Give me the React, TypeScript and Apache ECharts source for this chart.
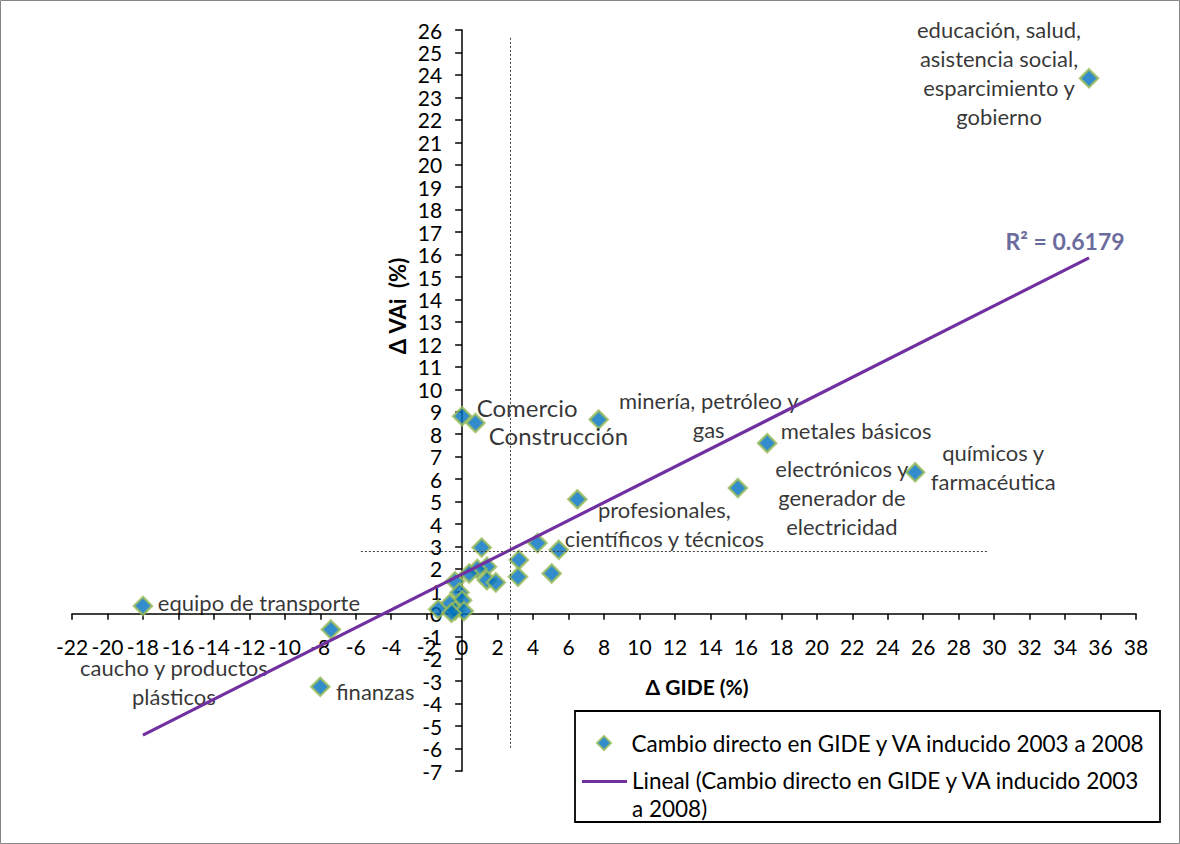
import { useEffect, useRef } from "react";
import * as echarts from "echarts";

// Sector names (empty where the point carries no label)
const sectors = [
  "educación, salud,\nasistencia social,\nesparcimiento y\ngobierno",
  "químicos y\nfarmacéutica",
  "metales básicos",
  "electrónicos y\ngenerador de\nelectricidad",
  "minería, petróleo y\ngas",
  "Comercio",
  "Construcción",
  "profesionales,\ncientíficos y técnicos",
  "equipo de transporte",
  "caucho y productos\nplásticos",
  "finanzas",
  "", "", "", "", "", "", "", "", "", "", "", "", "", "", "", "", "", "", "",
];

// Δ GIDE (%)
const gideChange = [
  35.35, 25.55, 17.2, 15.55, 7.7, 0.0, 0.75, 6.5, -18.0, -7.4, -8.0,
  4.25, 5.45, 5.05, 3.2, 3.15, 1.1, 1.4, 0.85, 0.4, 1.4, 1.9, -0.4, -0.15,
  0.0, -0.7, -0.4, 0.1, -1.35, -0.6,
];

// Δ VAi (%)
const vaChange = [
  23.85, 6.3, 7.6, 5.6, 8.65, 8.8, 8.5, 5.1, 0.35, -0.7, -3.25,
  3.15, 2.85, 1.8, 2.4, 1.65, 2.95, 2.1, 2.0, 1.8, 1.5, 1.4, 1.45, 0.95,
  0.6, 0.45, 0.15, 0.12, 0.2, 0.05,
];

// Linear trend end points and fit
const trendGide = [-18.0, 35.35];
const trendVa = [-5.4, 15.85];
const rSquared = "0.6179";

// Dotted reference lines
const refGide = 2.7;
const refVa = 2.77;
const refGideSpan = [-5.97, 25.69];
const refVaSpan = [-5.71, 29.6];

// Axis ranges
const xRange = [-22, 38];
const yRange = [-7, 26];

const scatterName = "Cambio directo en GIDE y VA inducido 2003 a 2008";
const trendName = "Lineal (Cambio directo en GIDE y VA inducido 2003\na 2008)";

const FONT = "Lato, 'Open Sans', sans-serif";

// Label placement around each labelled point (pixel offsets from the marker)
const labelLayout: Record<string, { offset: number[]; size?: number }> = {
  [sectors[0]]: { offset: [-90, -5] },
  [sectors[1]]: { offset: [78, -5] },
  [sectors[2]]: { offset: [89, -13] },
  [sectors[3]]: { offset: [104, 9] },
  [sectors[4]]: { offset: [110, -5] },
  [sectors[5]]: { offset: [65, -9], size: 24 },
  [sectors[6]]: { offset: [83, 13], size: 24 },
  [sectors[7]]: { offset: [87, 25] },
  [sectors[8]]: { offset: [116, -3] },
  [sectors[9]]: { offset: [-157, 52] },
  [sectors[10]]: { offset: [55, 5] },
};

const W = 1180;
const H = 844;
const GRID = { left: 72, right: 44, top: 30, bottom: 73 };

export default function App() {
  const ref = useRef<HTMLDivElement>(null);

  useEffect(() => {
    if (!ref.current) return;
    const chart = echarts.init(ref.current, null, { renderer: "svg" });

    // Axes cross at zero: shift each axis (line, ticks and labels) onto the other's zero
    const gridW = W - GRID.left - GRID.right;
    const gridH = H - GRID.top - GRID.bottom;
    const xAxisShift = -(gridH * (0 - yRange[0])) / (yRange[1] - yRange[0]);
    const yAxisShift = -(gridW * (0 - xRange[0])) / (xRange[1] - xRange[0]);

    const points = gideChange.map((x, i) => {
      const name = sectors[i];
      const lay = name ? labelLayout[name] : undefined;
      return {
        name,
        value: [x, vaChange[i]],
        label: lay
          ? {
              show: true,
              position: "inside",
              offset: lay.offset,
              align: "center",
              verticalAlign: "middle",
              fontFamily: FONT,
              fontSize: lay.size ?? 22,
              lineHeight: lay.size ? 30 : 29,
              color: "#000",
              textBorderWidth: 0,
              formatter: "{b}",
            }
          : { show: false },
      };
    });

    const axisText = { fontFamily: FONT, fontSize: 21, color: "#000" };
    const legendText = { fontFamily: FONT, fontSize: 22.5, color: "#000", lineHeight: 28 };

    chart.setOption({
      animation: false,
      backgroundColor: "#fff",
      grid: GRID,
      xAxis: {
        type: "value",
        min: xRange[0],
        max: xRange[1],
        interval: 2,
        offset: xAxisShift,
        splitLine: { show: false },
        axisLine: { onZero: false, lineStyle: { color: "#000", width: 1.5 } },
        axisTick: { length: 6, lineStyle: { color: "#000", width: 1.5 } },
        axisLabel: { ...axisText, margin: 22 },
      },
      yAxis: {
        type: "value",
        min: yRange[0],
        max: yRange[1],
        interval: 1,
        offset: yAxisShift,
        splitLine: { show: false },
        axisLine: { onZero: false, lineStyle: { color: "#000", width: 1.5 } },
        axisTick: { length: 7, lineStyle: { color: "#000", width: 1.5 } },
        axisLabel: { ...axisText, margin: 20 },
      },
      legend: [
        {
          orient: "vertical",
          left: 596,
          top: 729,
          padding: 0,
          itemWidth: 45,
          itemHeight: 14,
          textStyle: legendText,
          data: [{ name: scatterName, icon: "path://M0,7L7,0L14,7L7,14Z" }],
        },
        {
          orient: "vertical",
          left: 582,
          top: 766,
          padding: 0,
          itemWidth: 45,
          itemHeight: 30,
          textStyle: legendText,
          // line swatch sits level with the first text row
          data: [
            {
              name: trendName,
              icon: "path://M0,0H45V3H0Z M0,28H45V28.01H0Z",
              itemStyle: { color: "#7030A0", borderWidth: 0 },
            },
          ],
        },
      ],
      series: [
        {
          name: scatterName,
          type: "scatter",
          symbol: "diamond",
          symbolSize: 18,
          itemStyle: { color: "#0070C0", borderColor: "#9BBB59", borderWidth: 2.5 },
          data: points,
          z: 3,
          markLine: {
            silent: true,
            symbol: "none",
            label: { show: false },
            lineStyle: { type: [2, 2], color: "#404040", width: 1 },
            data: [
              [{ coord: [refGide, refGideSpan[0]] }, { coord: [refGide, refGideSpan[1]] }],
              [{ coord: [refVaSpan[0], refVa] }, { coord: [refVaSpan[1], refVa] }],
            ],
          },
        },
        {
          name: trendName,
          type: "line",
          symbol: "none",
          lineStyle: { color: "#7030A0", width: 3.2 },
          itemStyle: { color: "#7030A0" },
          data: trendGide.map((x, i) => [x, trendVa[i]]),
          z: 4,
        },
      ],
    });

    const end = chart.convertToPixel({ gridIndex: 0 }, [trendGide[1], trendVa[1]]) as number[];

    chart.setOption({
      graphic: [
        {
          type: "rect",
          shape: { x: 0.5, y: 0.5, width: 1179, height: 843 },
          style: { fill: "none", stroke: "#868686", lineWidth: 1 },
          silent: true,
        },
        {
          type: "rect",
          shape: { x: 575, y: 711, width: 585, height: 111 },
          style: { fill: "none", stroke: "#000", lineWidth: 1.8 },
          silent: true,
        },
        {
          type: "text",
          x: end[0] - 24,
          y: end[1] - 17,
          style: {
            text: `R² = ${rSquared}`,
            fontFamily: FONT,
            fontSize: 23,
            fontWeight: "bold",
            fill: "#6B6B9E",
            align: "center",
            verticalAlign: "middle",
          },
        },
        {
          type: "text",
          x: 697,
          y: 686,
          style: {
            text: "Δ GIDE (%)",
            fontFamily: FONT,
            fontSize: 21,
            fontWeight: "bold",
            fill: "#000",
            align: "center",
            verticalAlign: "middle",
          },
        },
        {
          type: "text",
          x: 397,
          y: 306,
          rotation: Math.PI / 2,
          style: {
            text: "Δ VAi\u00a0\u00a0(%)",
            fontFamily: FONT,
            fontSize: 22,
            fontWeight: "bold",
            fill: "#000",
            align: "center",
            verticalAlign: "middle",
          },
        },
      ],
    });

    return () => chart.dispose();
  }, []);

  return (
    <div
      ref={ref}
      style={{ position: "absolute", left: 0, top: 0, width: W, height: H }}
    />
  );
}
